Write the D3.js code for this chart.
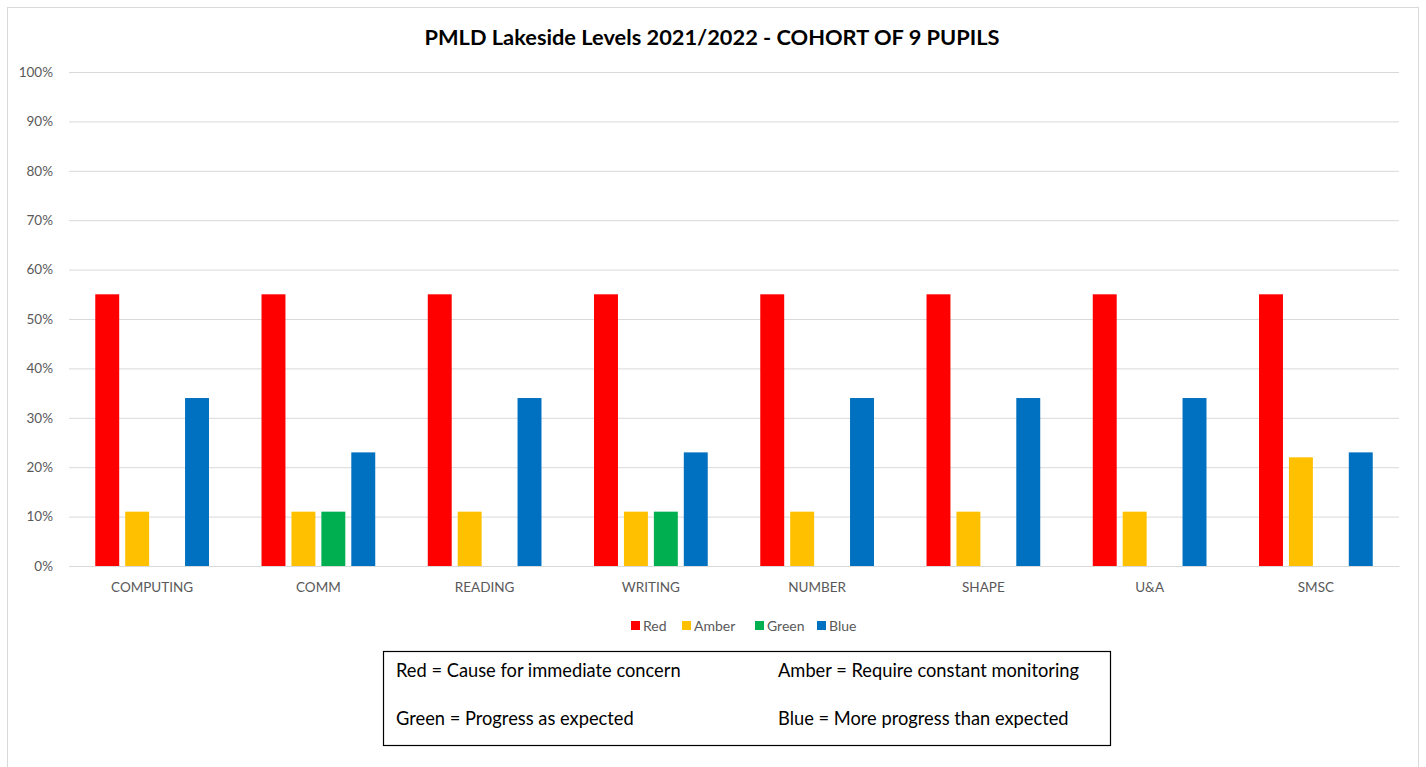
<!DOCTYPE html>
<html>
<head>
<meta charset="utf-8">
<script src="https://cdn.jsdelivr.net/npm/d3@7"></script>
<style>
  body { margin: 0; background: #fff; }
  svg { font-family: Lato, "Open Sans", sans-serif; display: block; }
</style>
</head>
<body>
<div id="chart"></div>
<script>
// values (percent of cohort)
const subjects = ["COMPUTING", "COMM", "READING", "WRITING", "NUMBER", "SHAPE", "U&A", "SMSC"];
const seriesNames = ["Red", "Amber", "Green", "Blue"];
const redVals   = [55, 55, 55, 55, 55, 55, 55, 55];
const amberVals = [11, 11, 11, 11, 11, 11, 11, 22];
const greenVals = [0, 11, 0, 11, 0, 0, 0, 0];
const blueVals  = [34, 23, 34, 23, 34, 34, 34, 23];
const colors = ["#ff0000", "#ffc000", "#00b050", "#0070c0"];
const yTicks = [0, 10, 20, 30, 40, 50, 60, 70, 80, 90, 100];
const keyLines = [
  ["Red = Cause for immediate concern", "Amber = Require constant monitoring"],
  ["Green = Progress as expected", "Blue = More progress than expected"]
];

const width = 1426, height = 767;
const marginTop = 72, marginRight = 27, marginBottom = 201, marginLeft = 69;

const rows = subjects.map((s, i) => ({
  subject: s,
  Red: redVals[i], Amber: amberVals[i], Green: greenVals[i], Blue: blueVals[i]
}));

const x0 = d3.scaleBand()
  .domain(subjects)
  .range([marginLeft, width - marginRight])
  .paddingInner(0.28)
  .paddingOuter(0.14);

const x1 = d3.scaleBand()
  .domain(seriesNames)
  .range([0, x0.bandwidth()])
  .paddingInner(0.2)
  .paddingOuter(0.1);

const y = d3.scaleLinear()
  .domain([0, 100])
  .range([height - marginBottom, marginTop]);

const color = d3.scaleOrdinal().domain(seriesNames).range(colors);

const svg = d3.select("#chart").append("svg")
  .attr("width", width)
  .attr("height", height)
  .attr("viewBox", [0, 0, width, height]);

// outer chart border
svg.append("rect")
  .attr("x", 7.5).attr("y", 7.5)
  .attr("width", 1411).attr("height", 770)
  .attr("fill", "#fff")
  .attr("stroke", "#d9d9d9");

svg.append("text")
  .attr("x", 712)
  .attr("y", 45)
  .attr("text-anchor", "middle")
  .attr("font-size", 21.8)
  .attr("font-weight", "bold")
  .attr("fill", "#000")
  .text("PMLD Lakeside Levels 2021/2022 - COHORT OF 9 PUPILS");

// y axis with gridlines
svg.append("g")
  .attr("transform", `translate(${marginLeft},0)`)
  .call(d3.axisLeft(y).tickValues(yTicks).tickFormat(d => d + "%").tickSize(-(width - marginLeft - marginRight)).tickPadding(16))
  .call(g => g.select(".domain").remove())
  .call(g => g.selectAll(".tick line").attr("stroke", "#d9d9d9"))
  .call(g => g.selectAll(".tick text")
    .attr("fill", "#595959")
    .attr("font-size", 13.5)
    .attr("font-family", "Lato, sans-serif"));

// bars
svg.append("g")
  .selectAll("g")
  .data(rows)
  .join("g")
    .attr("transform", d => `translate(${x0(d.subject)},0)`)
  .selectAll("rect")
  .data(d => seriesNames.map(k => ({ key: k, value: d[k] })))
  .join("rect")
    .attr("x", d => x1(d.key))
    .attr("y", d => y(d.value))
    .attr("width", x1.bandwidth())
    .attr("height", d => y(0) - y(d.value))
    .attr("fill", d => color(d.key));

// x axis
svg.append("g")
  .attr("transform", `translate(0,${height - marginBottom})`)
  .call(d3.axisBottom(x0).tickSize(0).tickPadding(16))
  .call(g => g.select(".domain").attr("stroke", "#d9d9d9"))
  .call(g => g.selectAll(".tick text")
    .attr("fill", "#595959")
    .attr("font-size", 13.5)
    .attr("font-family", "Lato, sans-serif"));

// legend
const legendX = [631, 682, 755, 817];
const legend = svg.append("g")
  .selectAll("g")
  .data(seriesNames)
  .join("g")
    .attr("transform", (d, i) => `translate(${legendX[i]},626)`);
legend.append("rect")
  .attr("x", 0).attr("y", -5)
  .attr("width", 9).attr("height", 9)
  .attr("fill", d => color(d));
legend.append("text")
  .attr("x", 12)
  .attr("dy", "0.35em")
  .attr("fill", "#595959")
  .attr("font-size", 14)
  .text(d => d);

// key box
svg.append("rect")
  .attr("x", 383.5).attr("y", 651.5)
  .attr("width", 727).attr("height", 94)
  .attr("fill", "#fff")
  .attr("stroke", "#000")
  .attr("stroke-width", 1.2);

const keyX = [396, 778];
const keyY = [677, 725];
keyLines.forEach((row, r) => {
  row.forEach((t, c) => {
    svg.append("text")
      .attr("x", keyX[c])
      .attr("y", keyY[r])
      .attr("font-size", 18.3)
      .attr("fill", "#000")
      .text(t);
  });
});
</script>
</body>
</html>
